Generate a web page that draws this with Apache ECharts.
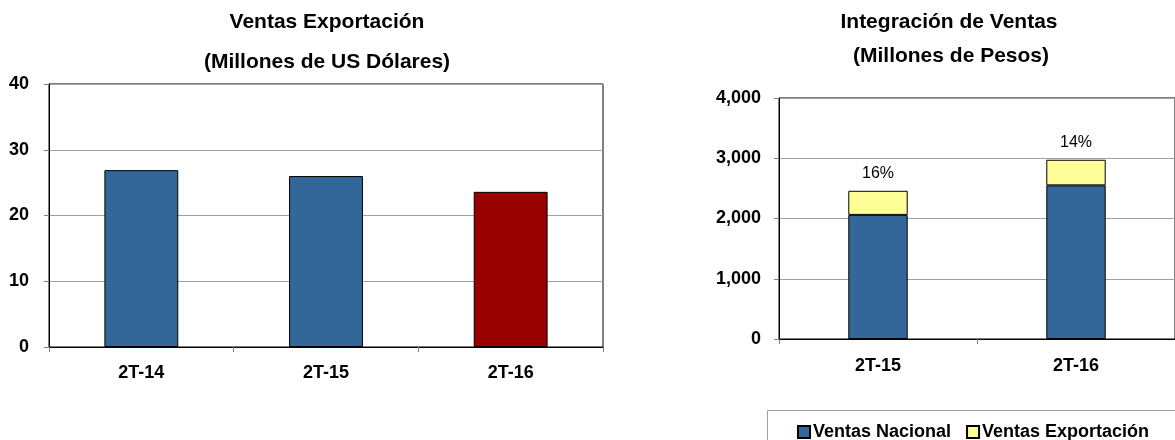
<!DOCTYPE html>
<html>
<head>
<meta charset="utf-8">
<script src="https://cdn.jsdelivr.net/npm/echarts@6/dist/echarts.min.js"></script>
<style>
html,body{margin:0;padding:0;background:#fff;}
#c{width:1175px;height:440px;}
</style>
</head>
<body>
<div id="c"></div>
<script>
// ---- data ----
const leftCategories = ['2T-14', '2T-15', '2T-16'];
const exportUSD = [26.9, 26.0, 23.6];
const leftTicks = [0, 10, 20, 30, 40];

const rightCategories = ['2T-15', '2T-16'];
const ventasNacional = [2060, 2550];
const ventasExportacion = [400, 425];
const pctLabels = ['16%', '14%'];
const rightTicks = [0, 1000, 2000, 3000, 4000];

const FONT = '"Liberation Sans", Arial, sans-serif';
const BLUE = '#336699', RED = '#990000', YELLOW = '#FFFF99';

const chart = echarts.init(document.getElementById('c'));

function xAxisCfg(idx, cats, margin) {
  return {
    type: 'category', gridIndex: idx, data: cats,
    axisLine: { show: true, lineStyle: { color: '#000', width: 1 } },
    axisTick: { show: true, alignWithLabel: false, length: 5, lineStyle: { color: '#808080' } },
    axisLabel: { fontFamily: FONT, fontSize: 18, fontWeight: 'bold', color: '#000', margin: margin },
    splitLine: { show: false }
  };
}
function yAxisCfg(idx, ticks, fmt, margin) {
  return {
    type: 'value', gridIndex: idx, min: ticks[0], max: ticks[ticks.length - 1],
    interval: ticks[1] - ticks[0],
    axisLine: { show: true, lineStyle: { color: '#000', width: 1 } },
    axisTick: { show: true, length: 5, lineStyle: { color: '#808080' } },
    axisLabel: { fontFamily: FONT, fontSize: 18, fontWeight: 'bold', color: '#000', margin: margin, formatter: fmt },
    splitLine: { show: true, lineStyle: { color: '#a0a0a0', width: 1 } }
  };
}

chart.setOption({
  animation: false,
  backgroundColor: '#fff',
  grid: [
    { left: 49, top: 84, width: 554, height: 263, show: true, borderColor: '#000', borderWidth: 1, backgroundColor: 'transparent' },
    { left: 779, top: 98, width: 398, height: 241, show: true, borderColor: '#000', borderWidth: 1, backgroundColor: 'transparent' }
  ],
  xAxis: [
    xAxisCfg(0, leftCategories, 17),
    xAxisCfg(1, rightCategories, 18)
  ],
  yAxis: [
    yAxisCfg(0, leftTicks, v => String(v), 20),
    yAxisCfg(1, rightTicks, v => v.toLocaleString('en-US'), 18)
  ],
  legend: {
    data: ['Ventas Nacional', 'Ventas Exportación'],
    left: 797, top: 423,
    icon: 'rect', itemWidth: 12, itemHeight: 12, itemGap: 15,
    textStyle: { fontFamily: FONT, fontSize: 18, fontWeight: 'bold', color: '#000', padding: [0, 0, 0, -2] },
    padding: 0
  },
  series: [
    {
      type: 'bar', xAxisIndex: 0, yAxisIndex: 0, barWidth: '40%',
      data: exportUSD.map((v, i) => ({
        value: v,
        itemStyle: { color: i === exportUSD.length - 1 ? RED : BLUE }
      })),
      itemStyle: { borderColor: '#000', borderWidth: 1 }
    },
    {
      name: 'Ventas Nacional', type: 'bar', stack: 'total', xAxisIndex: 1, yAxisIndex: 1, barWidth: '30%',
      data: ventasNacional,
      itemStyle: { color: BLUE, borderColor: '#000', borderWidth: 1 }
    },
    {
      name: 'Ventas Exportación', type: 'bar', stack: 'total', xAxisIndex: 1, yAxisIndex: 1, barWidth: '30%',
      data: ventasExportacion,
      itemStyle: { color: YELLOW, borderColor: '#000', borderWidth: 1 },
      label: {
        show: true, position: 'top', distance: 9,
        formatter: p => pctLabels[p.dataIndex],
        fontFamily: FONT, fontSize: 16, color: '#000'
      }
    }
  ],
  graphic: [
    { type: 'text', x: 327, y: 22, style: { text: 'Ventas Exportación', font: 'bold 21px ' + FONT, fill: '#000', align: 'center', verticalAlign: 'middle', textAlign: 'center', textVerticalAlign: 'middle' } },
    { type: 'text', x: 327, y: 62, style: { text: '(Millones de US Dólares)', font: 'bold 21px ' + FONT, fill: '#000', align: 'center', verticalAlign: 'middle', textAlign: 'center', textVerticalAlign: 'middle' } },
    { type: 'text', x: 949, y: 22, style: { text: 'Integración de Ventas', font: 'bold 21px ' + FONT, fill: '#000', align: 'center', verticalAlign: 'middle', textAlign: 'center', textVerticalAlign: 'middle' } },
    { type: 'text', x: 951, y: 56, style: { text: '(Millones de Pesos)', font: 'bold 21px ' + FONT, fill: '#000', align: 'center', verticalAlign: 'middle', textAlign: 'center', textVerticalAlign: 'middle' } },
    { type: 'rect', z: -1, shape: { x: 767.5, y: 410.5, width: 500, height: 100 }, style: { fill: 'none', stroke: '#a0a0a0', lineWidth: 1 } }
  ]
});
</script>
</body>
</html>
